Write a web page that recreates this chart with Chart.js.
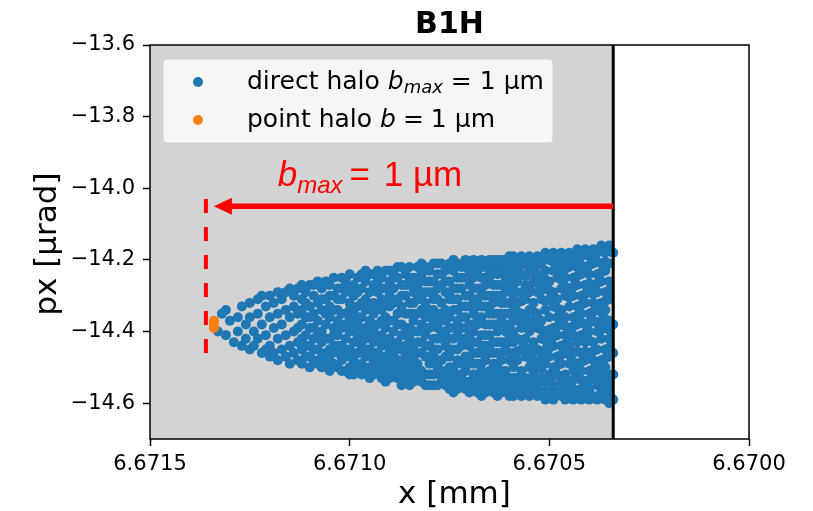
<!DOCTYPE html>
<html>
<head>
<meta charset="utf-8">
<title>B1H</title>
<script src="https://cdn.jsdelivr.net/npm/chart.js@4.4.0/dist/chart.umd.min.js"></script>
<style>
  html, body { margin: 0; padding: 0; background: #fff; }
  #wrap { width: 813px; height: 511px; position: relative; }
</style>
</head>
<body>
<div id="wrap"><canvas id="chart"></canvas></div>
<script>
// Direct halo:
// haloColX[i] is x [mm], haloColPx[i] the px [µrad] values seen in that column
const haloColX = [
  6.67133, 6.67132, 6.67131, 6.67130, 6.67129, 6.67128, 6.67127, 6.67126, 6.67125, 6.67124,
  6.67123, 6.67122, 6.67121, 6.67120, 6.67119, 6.67118, 6.67117, 6.67116, 6.67115, 6.67114,
  6.67113, 6.67112, 6.67111, 6.67110, 6.67109, 6.67108, 6.67107, 6.67106, 6.67105, 6.67104,
  6.67103, 6.67102, 6.67101, 6.67100, 6.67099, 6.67098, 6.67097, 6.67096, 6.67095, 6.67094,
  6.67093, 6.67092, 6.67091, 6.67090, 6.67089, 6.67088, 6.67087, 6.67086, 6.67085, 6.67084,
  6.67083, 6.67082, 6.67081, 6.67080, 6.67079, 6.67078, 6.67077, 6.67076, 6.67075, 6.67074,
  6.67073, 6.67072, 6.67071, 6.67070, 6.67069, 6.67068, 6.67067, 6.67066, 6.67065, 6.67064,
  6.67063, 6.67062, 6.67061, 6.67060, 6.67059, 6.67058, 6.67057, 6.67056, 6.67055, 6.67054,
  6.67053, 6.67052, 6.67051, 6.67050, 6.67049, 6.67048, 6.67047, 6.67046, 6.67045, 6.67044,
  6.67043, 6.67042, 6.67041, 6.67040, 6.67039, 6.67038, 6.67037, 6.67036, 6.67035, 6.67034
];
const haloColPx = [
  [-14.40],
  [-14.35],
  [-14.34, -14.41],
  [-14.37],
  [-14.43],
  [-14.36, -14.40],
  [-14.33, -14.44],
  [-14.38, -14.42],
  [-14.32, -14.36, -14.45],
  [-14.40, -14.44],
  [-14.31, -14.35, -14.42],
  [-14.30, -14.38, -14.46],
  [-14.33, -14.41, -14.45],
  [-14.30, -14.36, -14.44, -14.47],
  [-14.32, -14.39, -14.46],
  [-14.29, -14.35, -14.42, -14.48],
  [-14.31, -14.38, -14.45],
  [-14.29, -14.34, -14.41, -14.47],
  [-14.28, -14.36, -14.44, -14.49],
  [-14.30, -14.33, -14.40, -14.46],
  [-14.28, -14.35, -14.43, -14.48, -14.39],
  [-14.27, -14.31, -14.38, -14.45, -14.49, -14.34, -14.42],
  [-14.29, -14.36, -14.41, -14.47, -14.32, -14.44],
  [-14.27, -14.33, -14.39, -14.44, -14.50, -14.36, -14.47],
  [-14.30, -14.35, -14.42, -14.48, -14.27, -14.39, -14.45],
  [-14.26, -14.32, -14.37, -14.45, -14.49, -14.41],
  [-14.28, -14.34, -14.40, -14.43, -14.50, -14.31, -14.47],
  [-14.26, -14.31, -14.38, -14.46, -14.49, -14.35, -14.42],
  [-14.27, -14.33, -14.36, -14.42, -14.47, -14.51, -14.30, -14.45],
  [-14.25, -14.30, -14.39, -14.44, -14.49, -14.34, -14.41],
  [-14.28, -14.34, -14.37, -14.41, -14.46, -14.50, -14.31, -14.44],
  [-14.25, -14.31, -14.39, -14.44, -14.48, -14.28, -14.35, -14.51],
  [-14.26, -14.29, -14.35, -14.42, -14.47, -14.51, -14.38, -14.45],
  [-14.24, -14.32, -14.37, -14.40, -14.45, -14.50, -14.28, -14.34, -14.52],
  [-14.27, -14.30, -14.35, -14.43, -14.48, -14.52, -14.39, -14.46],
  [-14.25, -14.33, -14.38, -14.41, -14.46, -14.50, -14.29, -14.36, -14.43],
  [-14.24, -14.28, -14.36, -14.44, -14.49, -14.52, -14.32, -14.40, -14.46],
  [-14.26, -14.31, -14.34, -14.39, -14.42, -14.47, -14.51, -14.23, -14.45],
  [-14.24, -14.29, -14.37, -14.45, -14.50, -14.33, -14.41, -14.53],
  [-14.27, -14.32, -14.35, -14.40, -14.43, -14.48, -14.52, -14.24, -14.38, -14.46],
  [-14.23, -14.29, -14.38, -14.46, -14.51, -14.26, -14.33, -14.42, -14.49],
  [-14.25, -14.31, -14.34, -14.41, -14.44, -14.49, -14.53, -14.28, -14.37, -14.47],
  [-14.23, -14.28, -14.36, -14.39, -14.47, -14.51, -14.32, -14.43, -14.54],
  [-14.26, -14.30, -14.33, -14.42, -14.45, -14.49, -14.53, -14.23, -14.37, -14.51],
  [-14.23, -14.28, -14.37, -14.40, -14.47, -14.52, -14.25, -14.32, -14.44, -14.50],
  [-14.25, -14.31, -14.35, -14.43, -14.45, -14.50, -14.53, -14.22, -14.38, -14.48],
  [-14.22, -14.27, -14.33, -14.38, -14.41, -14.48, -14.52, -14.30, -14.45, -14.55],
  [-14.24, -14.30, -14.35, -14.44, -14.46, -14.50, -14.54, -14.27, -14.39, -14.41],
  [-14.22, -14.27, -14.32, -14.39, -14.42, -14.48, -14.52, -14.25, -14.35, -14.45, -14.55],
  [-14.25, -14.29, -14.35, -14.37, -14.44, -14.50, -14.54, -14.32, -14.40, -14.47],
  [-14.22, -14.27, -14.31, -14.40, -14.46, -14.49, -14.53, -14.25, -14.35, -14.43, -14.51],
  [-14.24, -14.29, -14.34, -14.38, -14.43, -14.51, -14.54, -14.21, -14.31, -14.46],
  [-14.22, -14.26, -14.32, -14.36, -14.41, -14.47, -14.52, -14.29, -14.39, -14.44, -14.55],
  [-14.23, -14.29, -14.34, -14.39, -14.44, -14.49, -14.55, -14.26, -14.36, -14.47, -14.52],
  [-14.21, -14.26, -14.31, -14.37, -14.42, -14.47, -14.52, -14.29, -14.34, -14.45, -14.55],
  [-14.24, -14.28, -14.35, -14.39, -14.45, -14.50, -14.55, -14.21, -14.31, -14.42, -14.48],
  [-14.21, -14.27, -14.32, -14.37, -14.42, -14.48, -14.53, -14.24, -14.35, -14.40, -14.51],
  [-14.23, -14.29, -14.34, -14.40, -14.44, -14.51, -14.55, -14.26, -14.37, -14.47, -14.53],
  [-14.21, -14.26, -14.31, -14.36, -14.42, -14.47, -14.53, -14.56, -14.29, -14.39, -14.45, -14.50],
  [-14.23, -14.28, -14.34, -14.39, -14.45, -14.50, -14.54, -14.20, -14.31, -14.42, -14.52, -14.57],
  [-14.21, -14.25, -14.31, -14.37, -14.41, -14.48, -14.52, -14.56, -14.28, -14.34, -14.45, -14.54],
  [-14.22, -14.28, -14.33, -14.39, -14.44, -14.49, -14.54, -14.25, -14.36, -14.42, -14.52],
  [-14.20, -14.25, -14.30, -14.36, -14.42, -14.47, -14.51, -14.56, -14.22, -14.33, -14.39, -14.49, -14.54],
  [-14.22, -14.27, -14.33, -14.38, -14.44, -14.49, -14.54, -14.24, -14.30, -14.41, -14.47, -14.57],
  [-14.20, -14.25, -14.31, -14.35, -14.40, -14.46, -14.52, -14.56, -14.23, -14.28, -14.38, -14.43, -14.49],
  [-14.23, -14.28, -14.33, -14.38, -14.43, -14.49, -14.54, -14.57, -14.21, -14.31, -14.36, -14.46, -14.52],
  [-14.20, -14.25, -14.30, -14.36, -14.41, -14.46, -14.51, -14.55, -14.22, -14.28, -14.33, -14.44, -14.49, -14.58],
  [-14.22, -14.27, -14.33, -14.38, -14.44, -14.48, -14.53, -14.57, -14.25, -14.30, -14.41, -14.46, -14.55],
  [-14.20, -14.25, -14.30, -14.35, -14.41, -14.46, -14.51, -14.56, -14.23, -14.33, -14.38, -14.44, -14.53],
  [-14.22, -14.27, -14.32, -14.38, -14.43, -14.49, -14.54, -14.57, -14.20, -14.30, -14.35, -14.46, -14.52],
  [-14.20, -14.24, -14.30, -14.35, -14.40, -14.46, -14.51, -14.55, -14.22, -14.27, -14.38, -14.43, -14.49, -14.58],
  [-14.22, -14.27, -14.32, -14.37, -14.43, -14.48, -14.53, -14.57, -14.20, -14.30, -14.35, -14.46, -14.51, -14.55],
  [-14.20, -14.25, -14.29, -14.35, -14.40, -14.45, -14.51, -14.56, -14.23, -14.32, -14.38, -14.43, -14.54],
  [-14.21, -14.27, -14.32, -14.38, -14.43, -14.48, -14.53, -14.58, -14.19, -14.25, -14.35, -14.41, -14.46, -14.56],
  [-14.19, -14.24, -14.30, -14.34, -14.40, -14.46, -14.50, -14.55, -14.22, -14.28, -14.37, -14.43, -14.53, -14.58],
  [-14.21, -14.26, -14.32, -14.37, -14.42, -14.48, -14.53, -14.57, -14.235, -14.345, -14.455, -14.545],
  [-14.19, -14.24, -14.29, -14.35, -14.39, -14.45, -14.51, -14.55, -14.58, -14.215, -14.315, -14.425, -14.535],
  [-14.21, -14.27, -14.31, -14.37, -14.42, -14.47, -14.53, -14.57, -14.245, -14.355, -14.445, -14.555],
  [-14.19, -14.23, -14.29, -14.34, -14.40, -14.45, -14.50, -14.55, -14.58, -14.205, -14.275, -14.385, -14.475],
  [-14.21, -14.26, -14.32, -14.37, -14.43, -14.48, -14.52, -14.56, -14.235, -14.345, -14.455, -14.535],
  [-14.19, -14.24, -14.29, -14.35, -14.39, -14.45, -14.50, -14.55, -14.58, -14.215, -14.265, -14.375, -14.485, -14.565],
  [-14.21, -14.26, -14.31, -14.37, -14.42, -14.47, -14.53, -14.57, -14.195, -14.285, -14.395, -14.505],
  [-14.18, -14.23, -14.28, -14.34, -14.40, -14.45, -14.49, -14.54, -14.59, -14.255, -14.315, -14.425, -14.565],
  [-14.20, -14.26, -14.31, -14.36, -14.42, -14.47, -14.52, -14.57, -14.185, -14.285, -14.395, -14.445, -14.535],
  [-14.18, -14.23, -14.29, -14.33, -14.39, -14.44, -14.50, -14.55, -14.59, -14.205, -14.305, -14.415, -14.525, -14.575],
  [-14.20, -14.25, -14.31, -14.36, -14.41, -14.47, -14.52, -14.57, -14.225, -14.335, -14.385, -14.495],
  [-14.18, -14.23, -14.28, -14.34, -14.38, -14.44, -14.49, -14.54, -14.58, -14.205, -14.255, -14.365, -14.465, -14.565],
  [-14.20, -14.25, -14.30, -14.36, -14.41, -14.46, -14.52, -14.56, -14.59, -14.225, -14.275, -14.385, -14.435, -14.535],
  [-14.18, -14.22, -14.28, -14.33, -14.39, -14.44, -14.49, -14.54, -14.58, -14.195, -14.305, -14.415, -14.465, -14.575],
  [-14.19, -14.25, -14.30, -14.36, -14.41, -14.46, -14.51, -14.56, -14.59, -14.215, -14.275, -14.385, -14.485, -14.535],
  [-14.17, -14.22, -14.27, -14.33, -14.38, -14.43, -14.49, -14.53, -14.58, -14.195, -14.245, -14.355, -14.455, -14.505, -14.565],
  [-14.19, -14.24, -14.30, -14.35, -14.41, -14.46, -14.51, -14.56, -14.59, -14.215, -14.325, -14.375, -14.485, -14.535],
  [-14.17, -14.22, -14.27, -14.32, -14.38, -14.43, -14.48, -14.54, -14.58, -14.185, -14.295, -14.405, -14.455, -14.565],
  [-14.19, -14.24, -14.29, -14.35, -14.40, -14.46, -14.51, -14.56, -14.59, -14.215, -14.265, -14.375, -14.425, -14.535, -14.585],
  [-14.17, -14.21, -14.27, -14.32, -14.37, -14.43, -14.48, -14.53, -14.58, -14.185, -14.295, -14.345, -14.455, -14.505],
  [-14.18, -14.24, -14.29, -14.34, -14.40, -14.45, -14.51, -14.55, -14.59, -14.205, -14.265, -14.375, -14.485, -14.535],
  [-14.16, -14.21, -14.26, -14.32, -14.37, -14.42, -14.48, -14.53, -14.57, -14.175, -14.235, -14.345, -14.395, -14.505, -14.585],
  [-14.18, -14.23, -14.29, -14.34, -14.39, -14.45, -14.50, -14.55, -14.59, -14.205, -14.315, -14.365, -14.475, -14.525],
  [-14.16, -14.21, -14.26, -14.31, -14.37, -14.42, -14.47, -14.52, -14.57, -14.60, -14.175, -14.285, -14.395, -14.445, -14.545],
  [-14.18, -14.38, -14.46, -14.52, -14.59]
];

// Point halo: the orange blob at the tip
const pointHaloX = [6.67134, 6.67134, 6.67134];
const pointHaloPx = [-14.37, -14.38, -14.39];

const xTicks = [6.6715, 6.6710, 6.6705, 6.6700];
const yTicks = [-13.6, -13.8, -14.0, -14.2, -14.4, -14.6];

// annotation positions, data coords
const edgeX = 6.67034;              // black edge line, grey area left of it
const bmaxX = 6.67136;              // red dashed marker
const bmaxPxRange = [-14.03, -14.47];
const arrowPx = -14.05;
const arrowTipX = 6.67134;
const bmaxLabelAt = [6.67118, -13.995];

const BLUE = '#1f77b4';
const ORANGE = '#ff7f0e';
const RED = '#ff0000';
const FONT = '"DejaVu Sans", sans-serif';
const RED_FONT = '"Liberation Sans", Arial, sans-serif';
const DOT = 5;

const haloPoints = [];
haloColX.forEach((x, i) => {
  haloColPx[i].forEach(p => haloPoints.push({ x: x, y: p }));
});
const pointHaloPoints = pointHaloX.map((x, i) => ({ x: x, y: pointHaloPx[i] }));

// draw a run of text pieces one after another (for the b_max subscripts)
function drawRuns(ctx, x, y, runs) {
  runs.forEach(r => {
    ctx.font = r.font;
    ctx.fillText(r.t, x, y + (r.dy || 0));
    x += ctx.measureText(r.t).width + (r.gap || 0);
  });
  return x;
}

const decor = {
  id: 'decor',
  beforeDatasetsDraw(chart) {
    const { ctx, chartArea: a, scales: { x } } = chart;
    const ex = x.getPixelForValue(edgeX);
    ctx.save();
    ctx.fillStyle = '#d3d3d3';
    ctx.fillRect(a.left, a.top, ex - a.left, a.bottom - a.top);
    ctx.restore();
  },
  afterDatasetsDraw(chart) {
    const { ctx, chartArea: a, scales: { x, y } } = chart;
    const ex = x.getPixelForValue(edgeX);
    ctx.save();

    // black edge
    ctx.strokeStyle = '#000';
    ctx.lineWidth = 3;
    ctx.beginPath();
    ctx.moveTo(ex, a.top);
    ctx.lineTo(ex, a.bottom);
    ctx.stroke();

    // red dashed b_max marker
    const bx = x.getPixelForValue(bmaxX);
    ctx.strokeStyle = RED;
    ctx.lineWidth = 4;
    ctx.setLineDash([14, 14]);
    ctx.beginPath();
    ctx.moveTo(bx, y.getPixelForValue(bmaxPxRange[0]));
    ctx.lineTo(bx, y.getPixelForValue(bmaxPxRange[1]));
    ctx.stroke();
    ctx.setLineDash([]);

    // red arrow
    const ay = y.getPixelForValue(arrowPx);
    const tip = x.getPixelForValue(arrowTipX);
    ctx.lineWidth = 5.5;
    ctx.beginPath();
    ctx.moveTo(ex, ay);
    ctx.lineTo(tip + 14, ay);
    ctx.stroke();
    ctx.fillStyle = RED;
    ctx.beginPath();
    ctx.moveTo(tip, ay);
    ctx.lineTo(tip + 18, ay - 8.5);
    ctx.lineTo(tip + 18, ay + 8.5);
    ctx.closePath();
    ctx.fill();

    // b_max = 1 µm label
    ctx.textAlign = 'left';
    ctx.textBaseline = 'alphabetic';
    drawRuns(ctx, x.getPixelForValue(bmaxLabelAt[0]), y.getPixelForValue(bmaxLabelAt[1]), [
      { t: 'b', font: 'italic 35px ' + RED_FONT },
      { t: 'max', font: 'italic 24px ' + RED_FONT, dy: 7, gap: 7 },
      { t: '=', font: '35px ' + RED_FONT, gap: 4 },
      { t: ' 1 µm', font: '35px ' + RED_FONT }
    ]);

    // legend
    const lx = a.left + 13, ly = a.top + 14, lw = 390, lh = 84;
    ctx.fillStyle = 'rgba(255,255,255,0.8)';
    ctx.strokeStyle = 'rgba(204,204,204,0.8)';
    ctx.lineWidth = 1;
    ctx.beginPath();
    ctx.roundRect(lx, ly, lw, lh, 4);
    ctx.fill();
    ctx.stroke();
    const rows = [
      { color: BLUE, cy: ly + 23, runs: [
        { t: 'direct halo ', font: '25px ' + FONT },
        { t: 'b', font: 'italic 25px ' + FONT },
        { t: 'max', font: 'italic 18px ' + FONT, dy: 4, gap: 8 },
        { t: '=', font: '25px ' + FONT, gap: 8 },
        { t: '1 µm', font: '25px ' + FONT }
      ] },
      { color: ORANGE, cy: ly + 61, runs: [
        { t: 'point halo ', font: '25px ' + FONT },
        { t: 'b', font: 'italic 25px ' + FONT, gap: 7 },
        { t: '=', font: '25px ' + FONT, gap: 7 },
        { t: '1 µm', font: '25px ' + FONT }
      ] }
    ];
    rows.forEach(r => {
      ctx.fillStyle = r.color;
      ctx.beginPath();
      ctx.arc(lx + 35, r.cy, DOT, 0, Math.PI * 2);
      ctx.fill();
      ctx.fillStyle = '#000';
      drawRuns(ctx, lx + 84, r.cy + 7, r.runs);
    });

    // axes frame
    ctx.strokeStyle = '#000';
    ctx.lineWidth = 1.5;
    ctx.strokeRect(a.left, a.top, a.right - a.left, a.bottom - a.top);

    // title and axis labels
    ctx.fillStyle = '#000';
    ctx.textAlign = 'center';
    ctx.font = 'bold 30px ' + FONT;
    ctx.fillText('B1H', (a.left + a.right) / 2, 33);
    ctx.font = '31px ' + FONT;
    ctx.fillText('x [mm]', (a.left + a.right) / 2 + 5, 503);
    ctx.translate(56, (a.top + a.bottom) / 2 + 2);
    ctx.rotate(-Math.PI / 2);
    ctx.fillText('px [µrad]', 0, 0);
    ctx.restore();
  }
};

const tickFont = { family: FONT, size: 21 };

new Chart(document.getElementById('chart'), {
  type: 'scatter',
  data: {
    datasets: [
      {
        label: 'direct halo',
        data: haloPoints,
        backgroundColor: BLUE,
        pointRadius: DOT,
        pointBorderWidth: 0,
        order: 2
      },
      {
        label: 'point halo',
        data: pointHaloPoints,
        backgroundColor: ORANGE,
        pointRadius: DOT,
        pointBorderWidth: 0,
        order: 1
      }
    ]
  },
  options: {
    responsive: true,
    maintainAspectRatio: false,
    animation: false,
    events: [],
    layout: { padding: { top: 45, right: 64, left: 0, bottom: 0 } },
    plugins: {
      legend: { display: false },
      tooltip: { enabled: false },
      title: { display: false }
    },
    scales: {
      x: {
        type: 'linear',
        reverse: true,
        min: 6.6700,
        max: 6.6715,
        afterBuildTicks: axis => { axis.ticks = xTicks.map(v => ({ value: v })); },
        afterFit: axis => { axis.height = 72; },
        grid: { drawOnChartArea: false, tickLength: 7, tickWidth: 1.5, tickColor: '#000' },
        border: { display: false },
        ticks: {
          color: '#000', font: tickFont, padding: 6, maxRotation: 0, autoSkip: false,
          callback: v => v.toFixed(4)
        }
      },
      y: {
        type: 'linear',
        min: -14.7,
        max: -13.6,
        afterBuildTicks: axis => { axis.ticks = yTicks.map(v => ({ value: v })); },
        afterFit: axis => { axis.width = 150; },
        grid: { drawOnChartArea: false, tickLength: 7, tickWidth: 1.5, tickColor: '#000' },
        border: { display: false },
        ticks: {
          color: '#000', font: tickFont, padding: 8, autoSkip: false,
          callback: v => '\u2212' + Math.abs(v).toFixed(1)
        }
      }
    }
  },
  plugins: [decor]
});
</script>
</body>
</html>
